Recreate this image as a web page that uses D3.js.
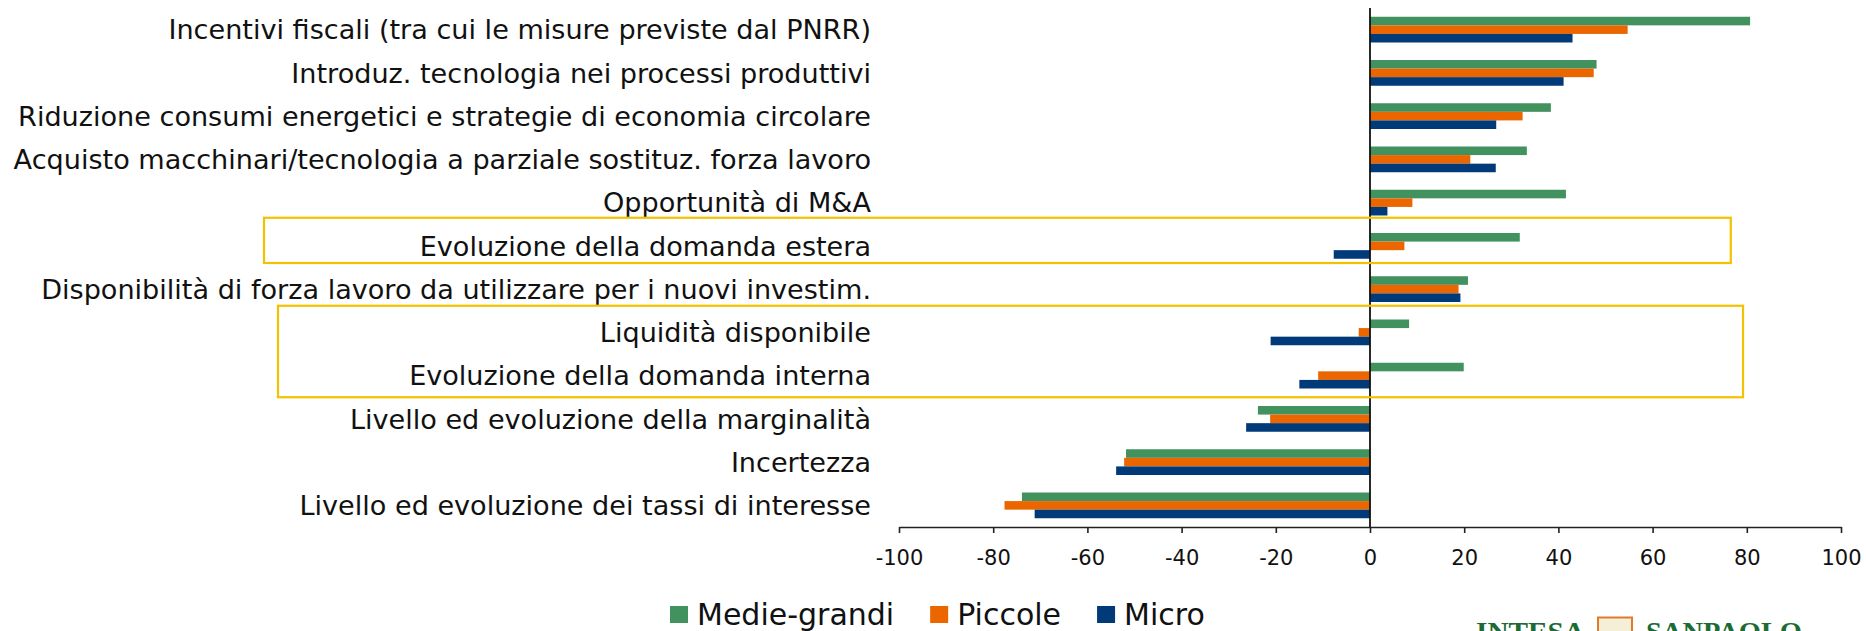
<!DOCTYPE html>
<html>
<head>
<meta charset="utf-8">
<script src="https://cdn.jsdelivr.net/npm/d3@7"></script>
<style>
  html, body { margin: 0; padding: 0; background: #fff; overflow: hidden; }
  svg { display: block; }
</style>
</head>
<body>
<div id="root"></div>
<script>
const width = 1866;
const height = 631;

// categories, top to bottom
const categories = [
  "Incentivi fiscali (tra cui le misure previste dal PNRR)",
  "Introduz. tecnologia nei processi produttivi",
  "Riduzione consumi energetici e strategie di economia circolare",
  "Acquisto macchinari/tecnologia a parziale sostituz. forza lavoro",
  "Opportunità di M&A",
  "Evoluzione della domanda estera",
  "Disponibilità di forza lavoro da utilizzare per i nuovi investim.",
  "Liquidità disponibile",
  "Evoluzione della domanda interna",
  "Livello ed evoluzione della marginalità",
  "Incertezza",
  "Livello ed evoluzione dei tassi di interesse"
];

const seriesNames = ["Medie-grandi", "Piccole", "Micro"];
const medieGrandi = [80.7, 48.1, 38.4, 33.3, 41.6, 31.8, 20.8, 8.3, 19.9, -23.8, -51.8, -73.9];
const piccole     = [54.7, 47.5, 32.4, 21.3, 9.0, 7.3, 18.8, -2.4, -11.0, -21.2, -52.2, -77.6];
const micro       = [43.0, 41.1, 26.8, 26.7, 3.7, -7.7, 19.2, -21.1, -15.0, -26.3, -53.9, -71.2];
const tickValues = [-100, -80, -60, -40, -20, 0, 20, 40, 60, 80, 100];

// highlighted rows (yellow frames)
const highlights = [
  { from: "Evoluzione della domanda estera", to: "Evoluzione della domanda estera", left: 264, right: 76.6, top: -6.5, bottom: -4.5 },
  { from: "Liquidità disponibile", to: "Evoluzione della domanda interna", left: 278, right: 79.2, top: -5, bottom: 0 }
];

const colors = ["#41925e", "#ec6600", "#003a78"];
const font = "'DejaVu Sans', 'Liberation Sans', sans-serif";

const svg = d3.select("#root").append("svg")
  .attr("width", width)
  .attr("height", height);

const x = d3.scaleLinear().domain([-100, 100]).range([899, 1841]);
const y = d3.scaleBand().domain(categories).range([8, 527]).paddingInner(0).paddingOuter(0);
const ySub = d3.scaleBand().domain(seriesNames).range([0, y.bandwidth()]).paddingInner(0).paddingOuter(1.02);

const color = d3.scaleOrdinal().domain(seriesNames).range(colors);

const rows = categories.map((c, i) => ({
  category: c,
  values: [medieGrandi[i], piccole[i], micro[i]].map((v, j) => ({ series: seriesNames[j], value: v }))
}));

// bars
const groups = svg.append("g").selectAll("g")
  .data(rows)
  .enter()
  .append("g")
  .attr("transform", d => "translate(0," + y(d.category) + ")");

groups.selectAll("rect")
  .data(d => d.values)
  .enter()
  .append("rect")
  .attr("x", d => x(Math.min(0, d.value)))
  .attr("y", d => ySub(d.series))
  .attr("width", d => Math.abs(x(d.value) - x(0)))
  .attr("height", ySub.bandwidth())
  .attr("fill", d => color(d.series));

// zero line
svg.append("line")
  .attr("x1", x(0)).attr("x2", x(0))
  .attr("y1", 8).attr("y2", 527)
  .attr("stroke", "#111")
  .attr("stroke-width", 1.8);

// x axis (plain hyphen for negatives, like the original)
const axis = svg.append("g")
  .attr("transform", "translate(0,527)")
  .call(d3.axisBottom(x).tickValues(tickValues).tickFormat(d => String(d)).tickSize(6).tickSizeOuter(0));

axis.select(".domain").attr("stroke", "#222").attr("stroke-width", 1.6);
axis.selectAll(".tick line").attr("stroke", "#222").attr("stroke-width", 1.6);
axis.selectAll(".tick text")
  .attr("y", 31)
  .attr("dy", "0.35em")
  .attr("font-family", font)
  .attr("font-size", "21px")
  .attr("fill", "#111");

// category labels, sized so the longest one spans the left area
const labels = svg.append("g").selectAll("text")
  .data(categories)
  .enter()
  .append("text")
  .attr("x", 871)
  .attr("y", d => y(d) + y.bandwidth() / 2)
  .attr("dy", "0.36em")
  .attr("text-anchor", "end")
  .attr("font-family", font)
  .attr("font-size", "24px")
  .attr("fill", "#111")
  .text(d => d);

let longest = 0;
labels.each(function() { longest = Math.max(longest, this.getComputedTextLength()); });
labels.attr("font-size", (24 * 858 / longest) + "px");

// yellow frames
svg.append("g").selectAll("rect")
  .data(highlights)
  .enter()
  .append("rect")
  .attr("x", d => d.left)
  .attr("y", d => y(d.from) + d.top)
  .attr("width", d => x(d.right) - d.left)
  .attr("height", d => (y(d.to) + y.bandwidth() + d.bottom) - (y(d.from) + d.top))
  .attr("fill", "none")
  .attr("stroke", "#f2c100")
  .attr("stroke-width", 2.2);

// legend
const legend = svg.append("g").attr("id", "legend");
let lx = 670;
seriesNames.forEach((s, i) => {
  legend.append("rect")
    .attr("x", lx)
    .attr("y", 606)
    .attr("width", 18)
    .attr("height", 17)
    .attr("fill", color(s));
  const t = legend.append("text")
    .attr("x", lx + 27)
    .attr("y", 614.5)
    .attr("dy", "0.36em")
    .attr("font-family", font)
    .attr("font-size", "30px")
    .attr("fill", "#111")
    .text(s);
  lx += 27 + t.node().getComputedTextLength() + 36;
});

// logo (cut at the bottom edge)
const logo = svg.append("g");
logo.append("text")
  .attr("x", 1476).attr("y", 641)
  .attr("font-family", "'Liberation Serif', serif")
  .attr("font-weight", "bold")
  .attr("font-size", "28px")
  .attr("textLength", 109)
  .attr("lengthAdjust", "spacingAndGlyphs")
  .attr("fill", "#1b6b35")
  .text("INTESA");
logo.append("rect")
  .attr("x", 1598).attr("y", 617.5)
  .attr("width", 34).attr("height", 30)
  .attr("fill", "#f4efd6")
  .attr("stroke", "#e07a2c")
  .attr("stroke-width", 2);
logo.append("text")
  .attr("x", 1646).attr("y", 641)
  .attr("font-family", "'Liberation Serif', serif")
  .attr("font-weight", "bold")
  .attr("font-size", "28px")
  .attr("textLength", 156)
  .attr("lengthAdjust", "spacingAndGlyphs")
  .attr("fill", "#1b6b35")
  .text("SANPAOLO");
</script>
</body>
</html>
